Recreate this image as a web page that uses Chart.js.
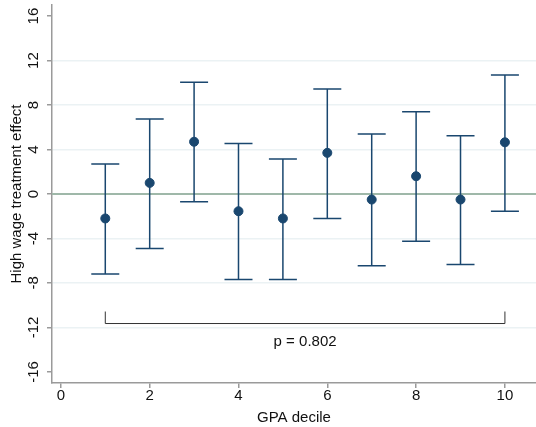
<!DOCTYPE html>
<html>
<head>
<meta charset="utf-8">
<script src="https://cdn.jsdelivr.net/npm/chart.js@4.4.1/dist/chart.umd.min.js"></script>
<style>
    html, body { margin: 0; padding: 0; background: #fff; }
    #wrap { width: 536px; height: 427px; }
</style>
</head>
<body>
<div id="wrap"><canvas id="chart"></canvas></div>
<script>
// data
const deciles = [1, 2, 3, 4, 5, 6, 7, 8, 9, 10];
const effects = [-2.2, 1.0, 4.7, -1.55, -2.2, 3.7, -0.5, 1.6, -0.5, 4.65];
const ciLow = [-7.2, -4.9, -0.7, -7.7, -7.7, -2.2, -6.45, -4.25, -6.35, -1.55];
const ciHigh = [2.7, 6.75, 10.05, 4.55, 3.15, 9.45, 5.4, 7.4, 5.25, 10.7];
const yTicks = [-16, -12, -8, -4, 0, 4, 8, 12, 16];
const xTicks = [0, 2, 4, 6, 8, 10];
const testFrom = 1;
const testTo = 10;
const testLevel = -11.65;
const testLabel = 'p = 0.802';

const navy = '#1a476f';
const axisGray = '#9a9a9a';
const font = "'Liberation Sans', Arial, Helvetica, sans-serif";

// stop Chart.js from reserving room for overhanging labels
const noPadding = axis => {
    axis.paddingLeft = 0;
    axis.paddingRight = 0;
    axis.paddingTop = 0;
    axis.paddingBottom = 0;
};

const extras = {
    id: 'extras',
    beforeDatasetsDraw(chart) {
        const { ctx, chartArea, scales: { x, y } } = chart;
        ctx.save();
        // zero line
        ctx.strokeStyle = '#9fb8a9';
        ctx.lineWidth = 2;
        ctx.beginPath();
        ctx.moveTo(chartArea.left, y.getPixelForValue(0));
        ctx.lineTo(chartArea.right, y.getPixelForValue(0));
        ctx.stroke();

        // error bars
        ctx.strokeStyle = navy;
        ctx.lineWidth = 1.5;
        deciles.forEach((d, i) => {
            const px = x.getPixelForValue(d);
            const lo = y.getPixelForValue(ciLow[i]);
            const hi = y.getPixelForValue(ciHigh[i]);
            ctx.beginPath();
            ctx.moveTo(px, lo);
            ctx.lineTo(px, hi);
            ctx.moveTo(px - 14, lo);
            ctx.lineTo(px + 14, lo);
            ctx.moveTo(px - 14, hi);
            ctx.lineTo(px + 14, hi);
            ctx.stroke();
        });
        ctx.restore();
    },
    afterDraw(chart) {
        const { ctx, scales: { x, y } } = chart;
        const x1 = x.getPixelForValue(testFrom);
        const x2 = x.getPixelForValue(testTo);
        const yl = y.getPixelForValue(testLevel);
        ctx.save();
        ctx.strokeStyle = '#333';
        ctx.lineWidth = 1;
        ctx.beginPath();
        ctx.moveTo(x1, yl - 12);
        ctx.lineTo(x1, yl);
        ctx.lineTo(x2, yl);
        ctx.lineTo(x2, yl - 12);
        ctx.stroke();
        ctx.fillStyle = '#111';
        ctx.font = '15px ' + font;
        ctx.textAlign = 'center';
        ctx.textBaseline = 'middle';
        ctx.fillText(testLabel, (x1 + x2) / 2, yl + 18);
        ctx.restore();
    }
};

new Chart(document.getElementById('chart'), {
    type: 'scatter',
    data: {
        datasets: [{
            data: deciles.map((d, i) => ({ x: d, y: effects[i] })),
            backgroundColor: navy,
            borderColor: navy,
            pointRadius: 4.5,
            pointHoverRadius: 4.5
        }]
    },
    options: {
        responsive: true,
        maintainAspectRatio: false,
        animation: false,
        layout: { autoPadding: false, padding: { top: 5, right: 0, left: 0, bottom: 0 } },
        plugins: {
            legend: { display: false },
            tooltip: { enabled: false }
        },
        scales: {
            x: {
                type: 'linear',
                min: -0.2,
                max: 10.7,
                afterBuildTicks: axis => { axis.ticks = xTicks.map(v => ({ value: v })); },
                afterFit: axis => { axis.height = 44; noPadding(axis); },
                border: { color: axisGray, width: 1.5 },
                grid: { drawOnChartArea: false, drawTicks: true, tickLength: 5, tickColor: axisGray, lineWidth: 1.5 },
                ticks: { color: '#111', font: { family: font, size: 15 }, padding: -1, maxRotation: 0 },
                title: { display: true, text: 'GPA decile', color: '#111', font: { family: font, size: 15 }, padding: { top: 0, bottom: 0 } }
            },
            y: {
                min: -17,
                max: 17,
                afterBuildTicks: axis => { axis.ticks = yTicks.map(v => ({ value: v })); },
                afterFit: axis => { axis.width = 52; noPadding(axis); },
                border: { color: axisGray, width: 1.5 },
                grid: {
                    color: c => (Math.abs(c.tick.value) === 16 ? 'rgba(0,0,0,0)' : '#ebf2f4'),
                    lineWidth: 1.5,
                    drawTicks: true,
                    tickLength: 5,
                    tickColor: axisGray
                },
                ticks: { color: '#111', font: { family: font, size: 15 }, minRotation: 90, maxRotation: 90, crossAlign: 'center', padding: 2.5 },
                title: { display: true, text: 'High wage treatment effect', color: '#111', font: { family: font, size: 15 }, padding: { top: 8, bottom: 0 } }
            }
        }
    },
    plugins: [extras]
});
</script>
</body>
</html>
